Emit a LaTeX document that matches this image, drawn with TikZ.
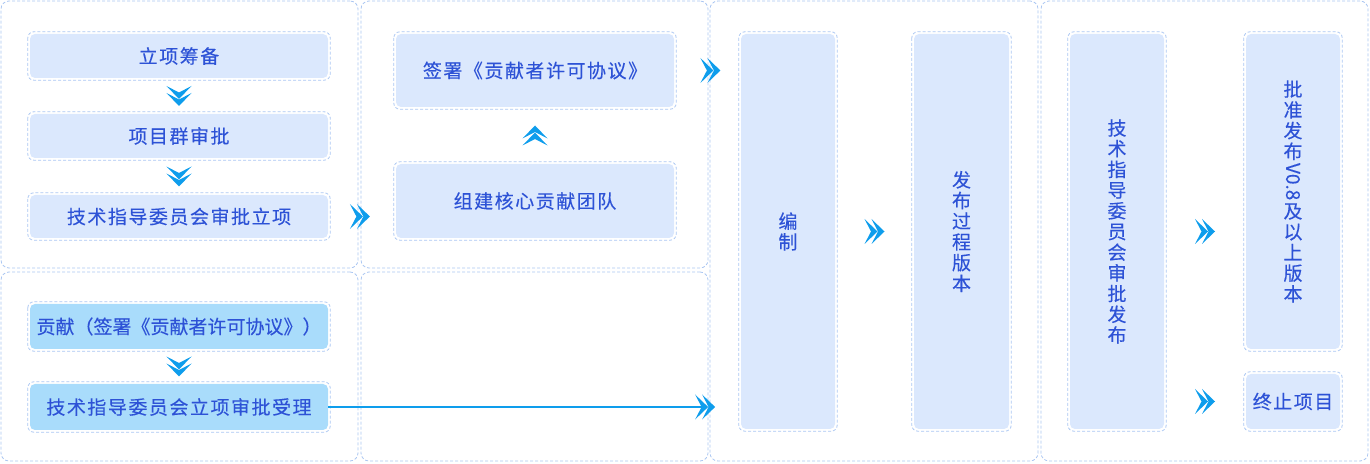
\documentclass[tikz,border=0pt]{standalone}
\usepackage{fontspec}
\newfontfamily\cjk[LetterSpace=8, FakeBold=0.2]{Noto Sans CJK SC}
\newfontfamily\cjktight[FakeBold=0.2]{Noto Sans CJK SC}
\usetikzlibrary{calc}
\definecolor{edge}{HTML}{AAC6F2}
\definecolor{boxfill}{HTML}{DBE8FD}
\definecolor{accfill}{HTML}{A9DCFB}
\definecolor{txt}{HTML}{2D52D6}
\definecolor{arrowblue}{HTML}{0E9DEC}

\tikzset{
    chev/.pic={
        \fill[arrowblue] (-10,12.5) -- (3,0) -- (-10,-12.5) -- (-3.5,0) -- cycle;
        \fill[arrowblue] (-3,12.5) -- (10,0) -- (-3,-12.5) -- (3.5,0) -- cycle;
    }
}

\begin{document}
\begin{tikzpicture}[x=1pt, y=1pt,
                    panel/.style={draw=edge, dash pattern=on 3pt off 2pt,
                    line width=0.8pt, rounded corners=8pt, inner sep=0pt},
                    box/.style={fill=boxfill, text=txt, align=center,
                    font=\cjk\fontsize{19}{20.7}\selectfont,
                    rounded corners=5pt, inner sep=0pt,
                    append after command={\pgfextra{\draw[edge, dash pattern=on 3pt off 2pt,
                        line width=0.8pt, rounded corners=6pt]
                        ([shift={(-2pt,2pt)}]\tikzlastnode.north west) rectangle
                        ([shift={(2pt,-2pt)}]\tikzlastnode.south east);}}},
                    hbox/.style={box, minimum width=298pt, minimum height=#1},
                    vbox/.style={box, font=\cjktight\fontsize{19}{20.7}\selectfont,
                    minimum width=94pt, minimum height=#1},
                    flow/.style={draw=arrowblue, line width=1.6pt}]
    \useasboundingbox (0,0) rectangle (1370,463);

    % columns
    \node[panel, minimum width=357pt, minimum height=267pt] (pA) at (179.5,328.5) {};
    \node[panel, minimum width=357pt, minimum height=189pt] (pB) at (179.5,96.5) {};
    \node[panel, minimum width=347pt, minimum height=267pt] (pC) at (534.5,328.5) {};
    \node[panel, minimum width=347pt, minimum height=189pt] (pD) at (534.5,96.5) {};
    \node[panel, minimum width=328pt, minimum height=460pt] (pE) at (874,232) {};
    \node[panel, minimum width=327pt, minimum height=460pt] (pF) at (1204.5,232) {};

    \node[hbox=44pt] (chouBei) at (179,407) {立项筹备};
    \node[hbox=44pt] (qunShen) at (179,327) {项目群审批};
    \node[hbox=43pt] (liXiang) at (179,246.5) {技术指导委员会审批立项};
    \node[box, minimum width=278pt, minimum height=73pt] (qianShu) at (535,392.5) {签署《贡献者许可协议》};
    \node[box, minimum width=278pt, minimum height=74pt] (zuJian) at (535,262) {组建核心贡献团队};
    \node[hbox=45pt, fill=accfill, font=\cjktight\fontsize{19}{20.7}\selectfont] (gongXian) at (179,136.5) {贡献（签署《贡献者许可协议》）};
    \node[hbox=46pt, fill=accfill] (shouLi) at (179,56) {技术指导委员会立项审批受理};

    \node[vbox=395pt] (bianZhi) at (788,231.5) {编\\制};
    \node[vbox=395pt, minimum width=95pt] (guoCheng) at (961.5,231.5) {发\\布\\过\\程\\版\\本};
    \node[vbox=395pt] (faBu) at (1117,231.5) {技\\术\\指\\导\\委\\员\\会\\审\\批\\发\\布};
    \node[vbox=315pt] (piZhun) at (1293,271.5) {批\\准\\发\\布\\[2pt]\rotatebox[origin=c]{-90}{V0.8}\\[2pt]及\\以\\上\\版\\本};
    \node[box, minimum width=94pt, minimum height=55pt] (zhongZhi) at (1293,61.5) {终止项目};

    % chevrons
    \pic[rotate=-90] at ($(chouBei.south)!0.5!(qunShen.north)$) {chev};
    \pic[rotate=-90] at ($(qunShen.south)!0.5!(liXiang.north)$) {chev};
    \pic at ($(pA.east |- liXiang.center)+(1.5,0)$) {chev};
    \pic[rotate=90] at ($(zuJian.north)!0.5!(qianShu.south)$) {chev};
    \pic at ($(pC.east |- qianShu.center)+(2,0)$) {chev};
    \pic at ($(bianZhi.east)!0.5!(guoCheng.west)$) {chev};
    \pic at ($(faBu.east)!0.5!(faBu.east -| piZhun.west)$) {chev};
    \pic at ($(faBu.east |- zhongZhi.center)!0.5!(zhongZhi.west)$) {chev};
    \pic[rotate=-90] at ($(gongXian.south)!0.5!(shouLi.north)$) {chev};
    \coordinate (inE) at ($(pE.west |- shouLi.east)+(-4.5,0)$);
    \draw[flow] (shouLi.east) -- (inE);
    \pic at (inE) {chev};
\end{tikzpicture}
\end{document}
